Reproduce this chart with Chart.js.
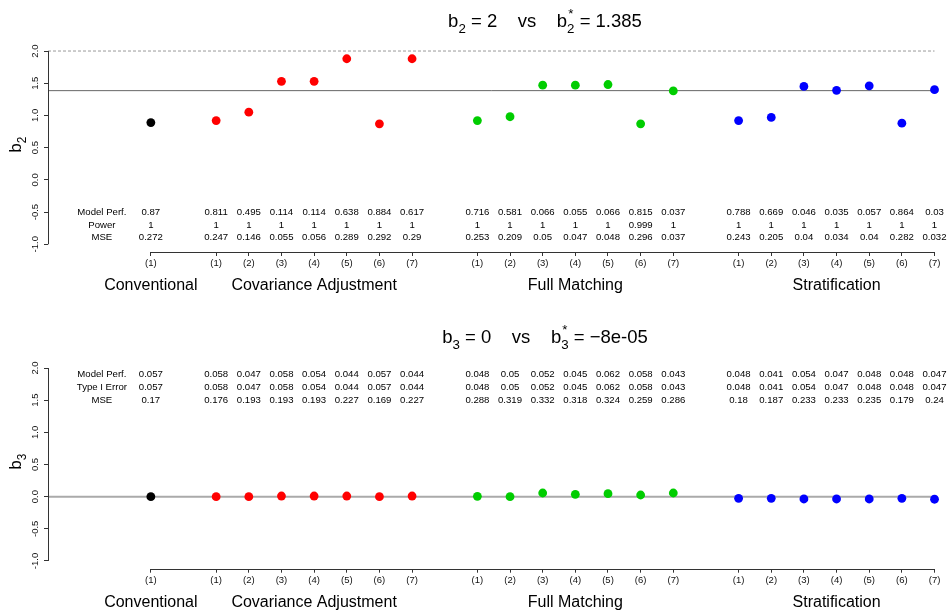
<!DOCTYPE html>
<html>
<head>
<meta charset="utf-8">
<script src="https://cdn.jsdelivr.net/npm/chart.js@4/dist/chart.umd.min.js"></script>
<style>
  body { margin: 0; overflow: hidden; background: #fff; }
  .panel { position: absolute; left: 0; }
</style>
</head>
<body>
<div class="panel" style="top:0px"><canvas id="b2chart" width="951" height="305"></canvas></div>
<div class="panel" style="top:305px"><canvas id="b3chart" width="951" height="306"></canvas></div>
<script>
// x position of every method, grouped with a gap between groups
const positions = [1, 3, 4, 5, 6, 7, 8, 9, 11, 12, 13, 14, 15, 16, 17, 19, 20, 21, 22, 23, 24, 25];
const methodLabels = ['(1)', '(1)', '(2)', '(3)', '(4)', '(5)', '(6)', '(7)',
                      '(1)', '(2)', '(3)', '(4)', '(5)', '(6)', '(7)',
                      '(1)', '(2)', '(3)', '(4)', '(5)', '(6)', '(7)'];
const groupIndex = [0, 1, 1, 1, 1, 1, 1, 1, 2, 2, 2, 2, 2, 2, 2, 3, 3, 3, 3, 3, 3, 3];
const groupNames = ['Conventional', 'Covariance Adjustment', 'Full Matching', 'Stratification'];
const groupColors = ['#000000', '#FF0000', '#00CD00', '#0000FF'];
const yTicks = [-1, -0.5, 0, 0.5, 1, 1.5, 2];

// b2 panel
const b2True = 2;
const b2Star = 1.385;
const b2Est = [0.89, 0.92, 1.05, 1.53, 1.53, 1.88, 0.87, 1.88,
               0.92, 0.98, 1.47, 1.47, 1.48, 0.87, 1.38,
               0.92, 0.97, 1.45, 1.39, 1.46, 0.88, 1.40];
const b2ModelPerf = [0.87, 0.811, 0.495, 0.114, 0.114, 0.638, 0.884, 0.617,
                     0.716, 0.581, 0.066, 0.055, 0.066, 0.815, 0.037,
                     0.788, 0.669, 0.046, 0.035, 0.057, 0.864, 0.03];
const b2Power = [1, 1, 1, 1, 1, 1, 1, 1,
                 1, 1, 1, 1, 1, 0.999, 1,
                 1, 1, 1, 1, 1, 1, 1];
const b2MSE = [0.272, 0.247, 0.146, 0.055, 0.056, 0.289, 0.292, 0.29,
               0.253, 0.209, 0.05, 0.047, 0.048, 0.296, 0.037,
               0.243, 0.205, 0.04, 0.034, 0.04, 0.282, 0.032];

// b3 panel
const b3True = 0;
const b3StarLabel = '\u22128e-05';
const b3Star = -0.00008;
const b3Est = [0.0, 0.0, 0.0, 0.01, 0.01, 0.01, 0.0, 0.01,
               0.005, 0.0, 0.057, 0.037, 0.047, 0.026, 0.057,
               -0.026, -0.026, -0.036, -0.036, -0.036, -0.026, -0.04];
const b3ModelPerf = [0.057, 0.058, 0.047, 0.058, 0.054, 0.044, 0.057, 0.044,
                     0.048, 0.05, 0.052, 0.045, 0.062, 0.058, 0.043,
                     0.048, 0.041, 0.054, 0.047, 0.048, 0.048, 0.047];
const b3TypeIError = [0.057, 0.058, 0.047, 0.058, 0.054, 0.044, 0.057, 0.044,
                      0.048, 0.05, 0.052, 0.045, 0.062, 0.058, 0.043,
                      0.048, 0.041, 0.054, 0.047, 0.048, 0.048, 0.047];
const b3MSE = [0.17, 0.176, 0.193, 0.193, 0.193, 0.227, 0.169, 0.227,
               0.288, 0.319, 0.332, 0.318, 0.324, 0.259, 0.286,
               0.18, 0.187, 0.233, 0.233, 0.235, 0.179, 0.24];

const FONT = '"Liberation Sans", Arial, sans-serif';
const X_MIN = -2.15, X_MAX = 25.37;
const LABEL_X = -0.5;      // x of the row-name column
const TITLE_CX = 545;

// draws text with subscripts / stacked sub+superscripts
function drawMath(ctx, parts, x0, base, size, center) {
  const big = size + 'px ' + FONT, small = (size * 0.72) + 'px ' + FONT;
  const w = p => { ctx.font = p.t !== undefined ? big : small; return ctx.measureText(p.t !== undefined ? p.t : p.sub).width; };
  const total = parts.reduce((s, p) => s + w(p), 0);
  let xx = center ? x0 - total / 2 : x0;
  ctx.textAlign = 'left';
  ctx.textBaseline = 'alphabetic';
  parts.forEach(p => {
    const pw = w(p);
    if (p.t !== undefined) {
      ctx.font = big; ctx.fillText(p.t, xx, base);
    } else {
      ctx.font = small; ctx.fillText(p.sub, xx, base + size * 0.3);
      if (p.sup) ctx.fillText(p.sup, xx + (pw - ctx.measureText(p.sup).width) / 2, base - size * 0.5);
    }
    xx += pw;
  });
}

function decor(cfg) {
  return {
    id: 'decor',
    afterDraw(chart) {
      const { ctx, chartArea, scales: { x, y } } = chart;
      ctx.save();
      ctx.strokeStyle = '#333';
      ctx.lineWidth = 1;
      ctx.beginPath();
      const ax = Math.round(chartArea.left) + 0.5;
      ctx.moveTo(ax, y.getPixelForValue(yTicks[0]));
      ctx.lineTo(ax, y.getPixelForValue(yTicks[yTicks.length - 1]));
      const ay = Math.round(chartArea.bottom) + 0.5;
      ctx.moveTo(x.getPixelForValue(positions[0]), ay);
      ctx.lineTo(x.getPixelForValue(positions[positions.length - 1]), ay);
      ctx.stroke();

      // table of metrics
      ctx.fillStyle = '#000';
      ctx.font = '9.6px ' + FONT;
      ctx.textAlign = 'center';
      ctx.textBaseline = 'middle';
      cfg.rows.forEach(row => {
        const py = y.getPixelForValue(row.y);
        ctx.fillText(row.label, x.getPixelForValue(LABEL_X), py);
        row.values.forEach((v, i) => ctx.fillText(String(v), x.getPixelForValue(positions[i]), py));
      });

      // group names under the axis
      ctx.font = '16px ' + FONT;
      ctx.textBaseline = 'alphabetic';
      groupNames.forEach((g, k) => {
        const xs = positions.filter((p, i) => groupIndex[i] === k);
        const cx = (xs[0] + xs[xs.length - 1]) / 2;
        ctx.fillText(g, x.getPixelForValue(cx), chartArea.bottom + 38);
      });

      // y title
      ctx.save();
      ctx.translate(21, (chartArea.top + chartArea.bottom) / 2 - 3);
      ctx.rotate(-Math.PI / 2);
      drawMath(ctx, [{ t: 'b' }, { sub: cfg.sub }], 0, 0, 16.5, true);
      ctx.restore();

      // main title
      drawMath(ctx, cfg.title, TITLE_CX, cfg.titleBase, 18.5, true);
      ctx.restore();
    }
  };
}

function makePanel(id, cfg) {
  const canvas = document.getElementById(id);
  const H = canvas.height;
  new Chart(canvas, {
    type: 'scatter',
    data: {
      datasets: [
        {
          data: positions.map((p, i) => ({ x: p, y: cfg.est[i] })),
          pointBackgroundColor: groupIndex.map(g => groupColors[g]),
          pointBorderWidth: 0,
          borderWidth: 0,
          pointRadius: 4.4,
          pointHoverRadius: 4.4,
          order: 1
        },
        ...cfg.refLines.map(r => ({
          type: 'line',
          data: [{ x: X_MIN, y: r.y }, { x: positions[positions.length - 1], y: r.y }],
          borderColor: r.color,
          borderWidth: r.width,
          borderDash: r.dash || [],
          pointRadius: 0,
          order: 2
        }))
      ]
    },
    options: {
      responsive: false,
      animation: false,
      events: [],
      layout: { padding: { top: cfg.top, left: 0, right: 0, bottom: 0 } },
      plugins: { legend: { display: false }, tooltip: { enabled: false } },
      scales: {
        x: {
          type: 'linear',
          min: X_MIN,
          max: X_MAX,
          afterFit: s => { s.height = H - cfg.bottom; },
          afterBuildTicks: s => { s.ticks = positions.map(v => ({ value: v })); },
          border: { display: false },
          grid: { drawOnChartArea: false, drawTicks: true, tickLength: 4, color: '#333' },
          ticks: {
            autoSkip: false, maxRotation: 0, padding: 2,
            color: '#111', font: { size: 9.5, family: FONT },
            callback: (v, i) => methodLabels[i]
          }
        },
        y: {
          type: 'linear',
          min: -1.12,
          max: 2.12,
          afterFit: s => { s.width = 48; },
          afterBuildTicks: s => { s.ticks = yTicks.map(v => ({ value: v })); },
          border: { display: false },
          grid: { drawOnChartArea: false, drawTicks: true, tickLength: 4, color: '#333' },
          ticks: {
            minRotation: 90, maxRotation: 90, crossAlign: 'center', padding: 0,
            color: '#111', font: { size: 9.5, family: FONT },
            callback: v => v.toFixed(1)
          }
        }
      }
    },
    plugins: [decor(cfg)]
  });
}

makePanel('b2chart', {
  est: b2Est,
  top: 43.3,
  bottom: 252,
  sub: '2',
  titleBase: 27,
  title: [{ t: 'b' }, { sub: '2' }, { t: ' = ' + b2True + '    vs    b' }, { sub: '2', sup: '*' }, { t: ' = ' + b2Star }],
  refLines: [
    { y: b2True, color: '#999', width: 1, dash: [3, 2] },
    { y: b2Star, color: '#666', width: 1 }
  ],
  rows: [
    { label: 'Model Perf.', values: b2ModelPerf, y: -0.5 },
    { label: 'Power', values: b2Power, y: -0.7 },
    { label: 'MSE', values: b2MSE, y: -0.9 }
  ]
});

makePanel('b3chart', {
  est: b3Est,
  top: 55.3,
  bottom: 263.7,
  sub: '3',
  titleBase: 38.3,
  title: [{ t: 'b' }, { sub: '3' }, { t: ' = ' + b3True + '    vs    b' }, { sub: '3', sup: '*' }, { t: ' = ' + b3StarLabel }],
  refLines: [
    { y: b3Star, color: '#aaa', width: 2 }
  ],
  rows: [
    { label: 'Model Perf.', values: b3ModelPerf, y: 1.9 },
    { label: 'Type I Error', values: b3TypeIError, y: 1.7 },
    { label: 'MSE', values: b3MSE, y: 1.5 }
  ]
});
</script>
</body>
</html>
